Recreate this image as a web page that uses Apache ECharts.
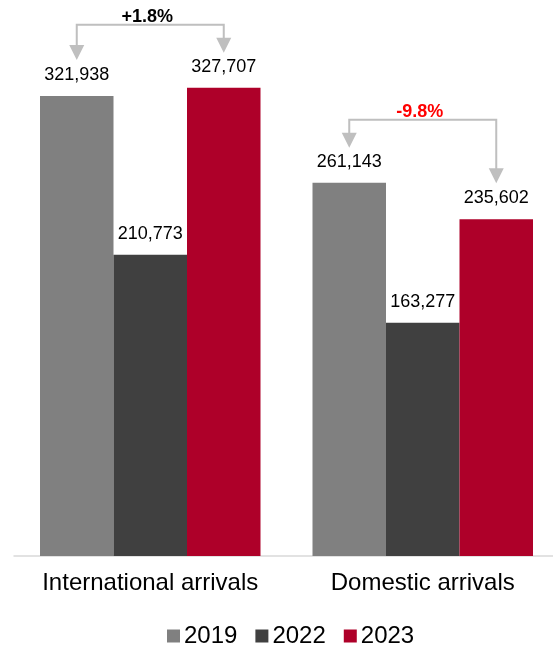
<!DOCTYPE html>
<html>
<head>
<meta charset="utf-8">
<script src="https://cdn.jsdelivr.net/npm/echarts@6/dist/echarts.min.js"></script>
<style>
html,body{margin:0;padding:0;background:#fff;}
#chart{width:553px;height:647px;}
</style>
</head>
<body>
<div id="chart"></div>
<script>
const categories = ['International arrivals', 'Domestic arrivals'];
const years = ['2019', '2022', '2023'];
const v2019 = [321938, 261143];
const v2022 = [210773, 163277];
const v2023 = [327707, 235602];
const changeLabels = ['+1.8%', '-9.8%'];
const changeColors = ['#000000', '#ff0000'];
const colors = ['#808080', '#404040', '#ae0029'];

const FONT = '"Liberation Sans", Arial, sans-serif';
const chart = echarts.init(document.getElementById('chart'), null, {renderer: 'canvas'});

const seriesData = [v2019, v2022, v2023];
const option = {
  animation: false,
  textStyle: {fontFamily: FONT},
  grid: {left: 14, width: 545, top: 13, bottom: 91, containLabel: false, outerBoundsMode: 'none'},
  legend: {
    data: years,
    left: 167,
    top: 624,
    padding: 0,
    itemWidth: 13,
    itemHeight: 13,
    itemGap: 18,
    icon: 'rect',
    textStyle: {fontSize: 24, color: '#000', fontFamily: FONT, padding: [0, 0, 0, -1]}
  },
  xAxis: {
    type: 'category',
    data: categories,
    axisLine: {show: true, lineStyle: {color: '#d9d9d9', width: 1.5}},
    axisTick: {show: false},
    axisLabel: {fontSize: 24, color: '#000', margin: 15, fontFamily: FONT, interval: 0, hideOverlap: false},
    splitLine: {show: false}
  },
  yAxis: {
    type: 'value',
    min: 0,
    max: 380000,
    show: false,
    splitLine: {show: false}
  },
  series: years.map((y, i) => ({
    name: y,
    type: 'bar',
    data: seriesData[i],
    barWidth: 73.5,
    barGap: '0%',
    itemStyle: {color: colors[i]},
    label: {
      show: true,
      position: 'top',
      distance: 12,
      fontSize: 18,
      color: '#000',
      fontFamily: FONT,
      formatter: p => p.value.toLocaleString('en-US')
    }
  }))
};
chart.setOption(option);

function barLayout(si, di) {
  const data = chart.getModel().getSeriesByIndex(si).getData();
  const l = data.getItemLayout(di);
  return {cx: l.x + l.width / 2, top: Math.min(l.y, l.y + l.height)};
}

const graphics = [];
const gray = '#bfbfbf';
for (let g = 0; g < categories.length; g++) {
  const L = barLayout(0, g), R = barLayout(2, g);
  const lineY = Math.min(L.top, R.top) - 63;
  const tipL = Math.max(lineY + 28, L.top - 36);
  const tipR = Math.max(lineY + 28, R.top - 36);
  graphics.push({
    type: 'polyline',
    shape: {points: [[L.cx, tipL - 14], [L.cx, lineY], [R.cx, lineY], [R.cx, tipR - 14]]},
    style: {stroke: gray, lineWidth: 2, fill: null}
  });
  [[L.cx, tipL], [R.cx, tipR]].forEach(([x, t]) => {
    graphics.push({
      type: 'polygon',
      shape: {points: [[x - 7.5, t - 15], [x + 7.5, t - 15], [x, t]]},
      style: {fill: gray, stroke: null}
    });
  });
  graphics.push({
    type: 'text',
    x: (L.cx + R.cx) / 2 - 3,
    y: lineY - 8,
    style: {
      text: changeLabels[g],
      fill: changeColors[g],
      font: 'bold 18px ' + FONT,
      textAlign: 'center',
      textVerticalAlign: 'middle'
    }
  });
}
chart.setOption({graphic: graphics});
</script>
</body>
</html>
